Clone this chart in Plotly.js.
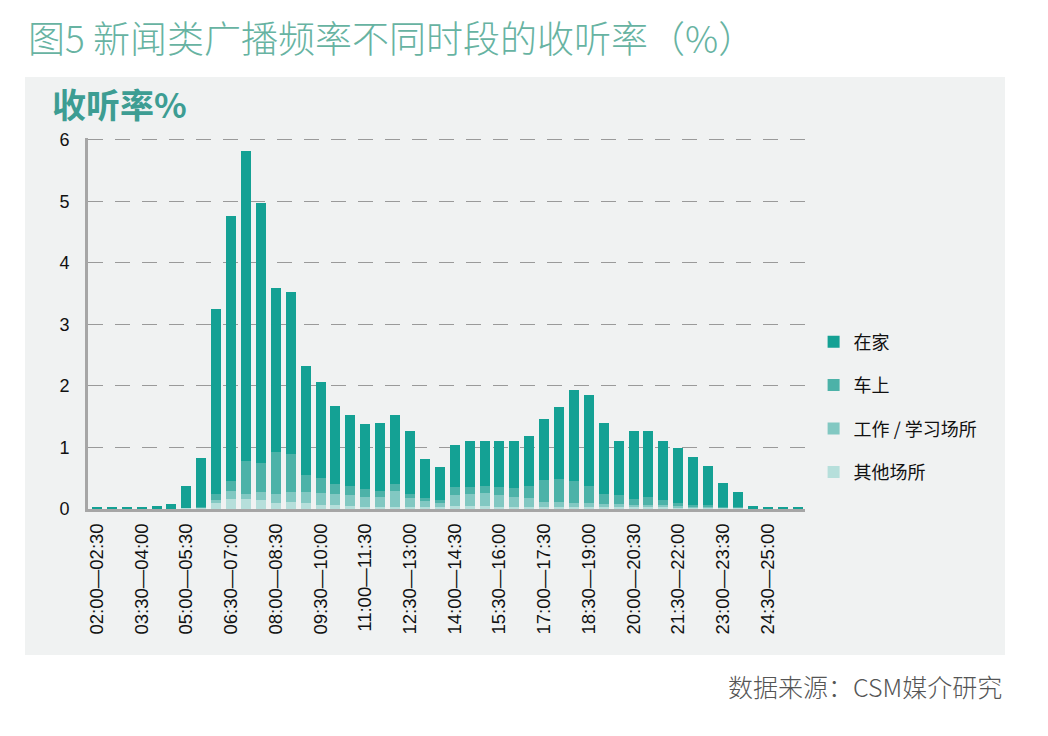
<!DOCTYPE html>
<html>
<head>
<meta charset="utf-8">
<script src="https://cdn.plot.ly/plotly-3.0.1.min.js"></script>
<style>
  body { margin: 0; background: #ffffff; }
  #chart { width: 1048px; height: 736px; }
</style>
</head>
<body>
<div id="chart"></div>
<script>
// half-hour time slots
var slots = [
  "02:00—02:30", "02:30—03:00", "03:00—03:30", "03:30—04:00", "04:00—04:30", "04:30—05:00",
  "05:00—05:30", "05:30—06:00", "06:00—06:30", "06:30—07:00", "07:00—07:30", "07:30—08:00",
  "08:00—08:30", "08:30—09:00", "09:00—09:30", "09:30—10:00", "10:00—10:30", "10:30—11:00",
  "11:00—11:30", "11:30—12:00", "12:00—12:30", "12:30—13:00", "13:00—13:30", "13:30—14:00",
  "14:00—14:30", "14:30—15:00", "15:00—15:30", "15:30—16:00", "16:00—16:30", "16:30—17:00",
  "17:00—17:30", "17:30—18:00", "18:00—18:30", "18:30—19:00", "19:00—19:30", "19:30—20:00",
  "20:00—20:30", "20:30—21:00", "21:00—21:30", "21:30—22:00", "22:00—22:30", "22:30—23:00",
  "23:00—23:30", "23:30—24:00", "24:00—24:30", "24:30—25:00", "25:00—25:30", "25:30—26:00"
];

// labels shown on the x axis (every third slot)
var tickLabels = [
  "02:00—02:30", "03:30—04:00", "05:00—05:30", "06:30—07:00", "08:00—08:30", "09:30—10:00",
  "11:00—11:30", "12:30—13:00", "14:00—14:30", "15:30—16:00", "17:00—17:30", "18:30—19:00",
  "20:00—20:30", "21:30—22:00", "23:00—23:30", "24:30—25:00"
];

var atHome = [
  0.03, 0.03, 0.03, 0.03, 0.05, 0.08, 0.36, 0.79, 3.01, 4.32, 5.04, 4.24,
  2.68, 2.63, 1.77, 1.57, 1.26, 1.15, 1.06, 1.10, 1.12, 1.02, 0.64, 0.53,
  0.69, 0.74, 0.73, 0.75, 0.77, 0.81, 1.00, 1.16, 1.47, 1.48, 1.14, 0.88,
  1.09, 1.07, 0.97, 0.89, 0.77, 0.64, 0.39, 0.25, 0.05, 0.03, 0.03, 0.03
];
var inCar = [
  0, 0, 0, 0, 0, 0, 0.01, 0.02, 0.10, 0.16, 0.54, 0.47,
  0.67, 0.63, 0.28, 0.24, 0.16, 0.15, 0.13, 0.10, 0.12, 0.07, 0.05, 0.05,
  0.12, 0.12, 0.12, 0.14, 0.15, 0.20, 0.36, 0.38, 0.36, 0.28, 0.17, 0.14,
  0.10, 0.12, 0.08, 0.05, 0.03, 0.02, 0.01, 0.01, 0, 0, 0, 0
];
var atWork = [
  0, 0, 0, 0, 0, 0, 0, 0.01, 0.05, 0.13, 0.08, 0.13,
  0.15, 0.16, 0.18, 0.19, 0.19, 0.17, 0.15, 0.16, 0.25, 0.15, 0.10, 0.07,
  0.18, 0.19, 0.21, 0.18, 0.15, 0.14, 0.07, 0.07, 0.06, 0.05, 0.04, 0.04,
  0.04, 0.04, 0.03, 0.03, 0.02, 0.02, 0.01, 0.01, 0, 0, 0, 0
];
var elsewhere = [
  0, 0, 0, 0, 0, 0, 0.01, 0.01, 0.09, 0.16, 0.16, 0.14,
  0.10, 0.11, 0.09, 0.07, 0.06, 0.05, 0.04, 0.04, 0.04, 0.03, 0.03, 0.03,
  0.05, 0.05, 0.05, 0.04, 0.04, 0.04, 0.04, 0.04, 0.04, 0.04, 0.04, 0.04,
  0.03, 0.03, 0.03, 0.02, 0.02, 0.02, 0.01, 0.01, 0, 0, 0, 0
];

// stacked bottom to top
var seriesNames = ["其他场所", "工作 / 学习场所", "车上", "在家"];
var seriesColors = ["#b6dfdb", "#82c8c2", "#4cb2a8", "#14a194"];
var seriesValues = [elsewhere, atWork, inCar, atHome];

var data = seriesValues.map(function (vals, i) {
  return {
    type: "bar",
    name: seriesNames[i],
    legendgroup: "g" + i,
    legendrank: 4 - i,
    x: slots,
    y: vals,
    marker: { color: seriesColors[i], line: { width: 0 } },
    hoverinfo: "x+y+name"
  };
});

var layout = {
  width: 1048,
  height: 736,
  margin: { l: 88, r: 243, t: 138, b: 227 },
  paper_bgcolor: "#ffffff",
  plot_bgcolor: "rgba(0,0,0,0)",
  barmode: "stack",
  bargap: 0.33,
  font: { family: "Liberation Sans, Arial, sans-serif", color: "#222" },
  showlegend: true,
  legend: {
    x: 1.012, y: 0.5, xanchor: "left", yanchor: "top",
    traceorder: "grouped",
    tracegroupgap: 17,
    font: { family: "Noto Sans CJK SC", size: 18, color: "#111" },
    bgcolor: "rgba(0,0,0,0)",
    itemwidth: 30
  },
  xaxis: {
    type: "category",
    tickmode: "array",
    tickvals: tickLabels,
    ticktext: tickLabels,
    tickangle: -90,
    tickfont: { family: "Liberation Sans, Arial", size: 18.5, color: "#111" },
    showline: true, linecolor: "#a6a6a6", linewidth: 3,
    showgrid: false, ticks: "",
    ticklabelstandoff: 4,
    range: [-0.6, 47.5]
  },
  yaxis: {
    range: [0, 6.03],
    tickvals: [0, 1, 2, 3, 4, 5, 6],
    tickfont: { family: "Liberation Sans, Arial", size: 18, color: "#111" },
    showline: true, linecolor: "#a6a6a6", linewidth: 3,
    showgrid: true, gridcolor: "#9a9a9a", gridwidth: 1, griddash: "15px,12px",
    zeroline: false, ticks: "",
    ticklabelstandoff: 12
  },
  shapes: [
    {
      type: "rect", xref: "paper", yref: "paper", layer: "below",
      x0: -63 / 717, x1: 917 / 717, y0: -146 / 371, y1: 432 / 371,
      fillcolor: "#f0f2f2", line: { width: 0 }
    }
  ],
  annotations: [
    {
      xref: "paper", yref: "paper", x: -62 / 717, y: 472 / 371,
      xanchor: "left", yanchor: "middle", showarrow: false,
      text: "图5 新闻类广播频率不同时段的收听率（%）",
      font: { family: "Noto Sans CJK SC", size: 37, color: "#67b3a2", weight: 300 }
    },
    {
      xref: "paper", yref: "paper", x: -38 / 717, y: 406 / 371,
      xanchor: "left", yanchor: "middle", showarrow: false,
      text: "<b>收听率%</b>",
      font: { family: "Noto Sans CJK SC", size: 34, color: "#3d9d93" }
    },
    {
      xref: "paper", yref: "paper", x: 916 / 717, y: -177 / 371,
      xanchor: "right", yanchor: "middle", showarrow: false,
      text: "数据来源：CSM媒介研究",
      font: { family: "Noto Sans CJK SC", size: 25, color: "#555555", weight: 300 }
    }
  ]
};

Plotly.newPlot("chart", data, layout, { displayModeBar: false, staticPlot: true });
</script>
</body>
</html>
